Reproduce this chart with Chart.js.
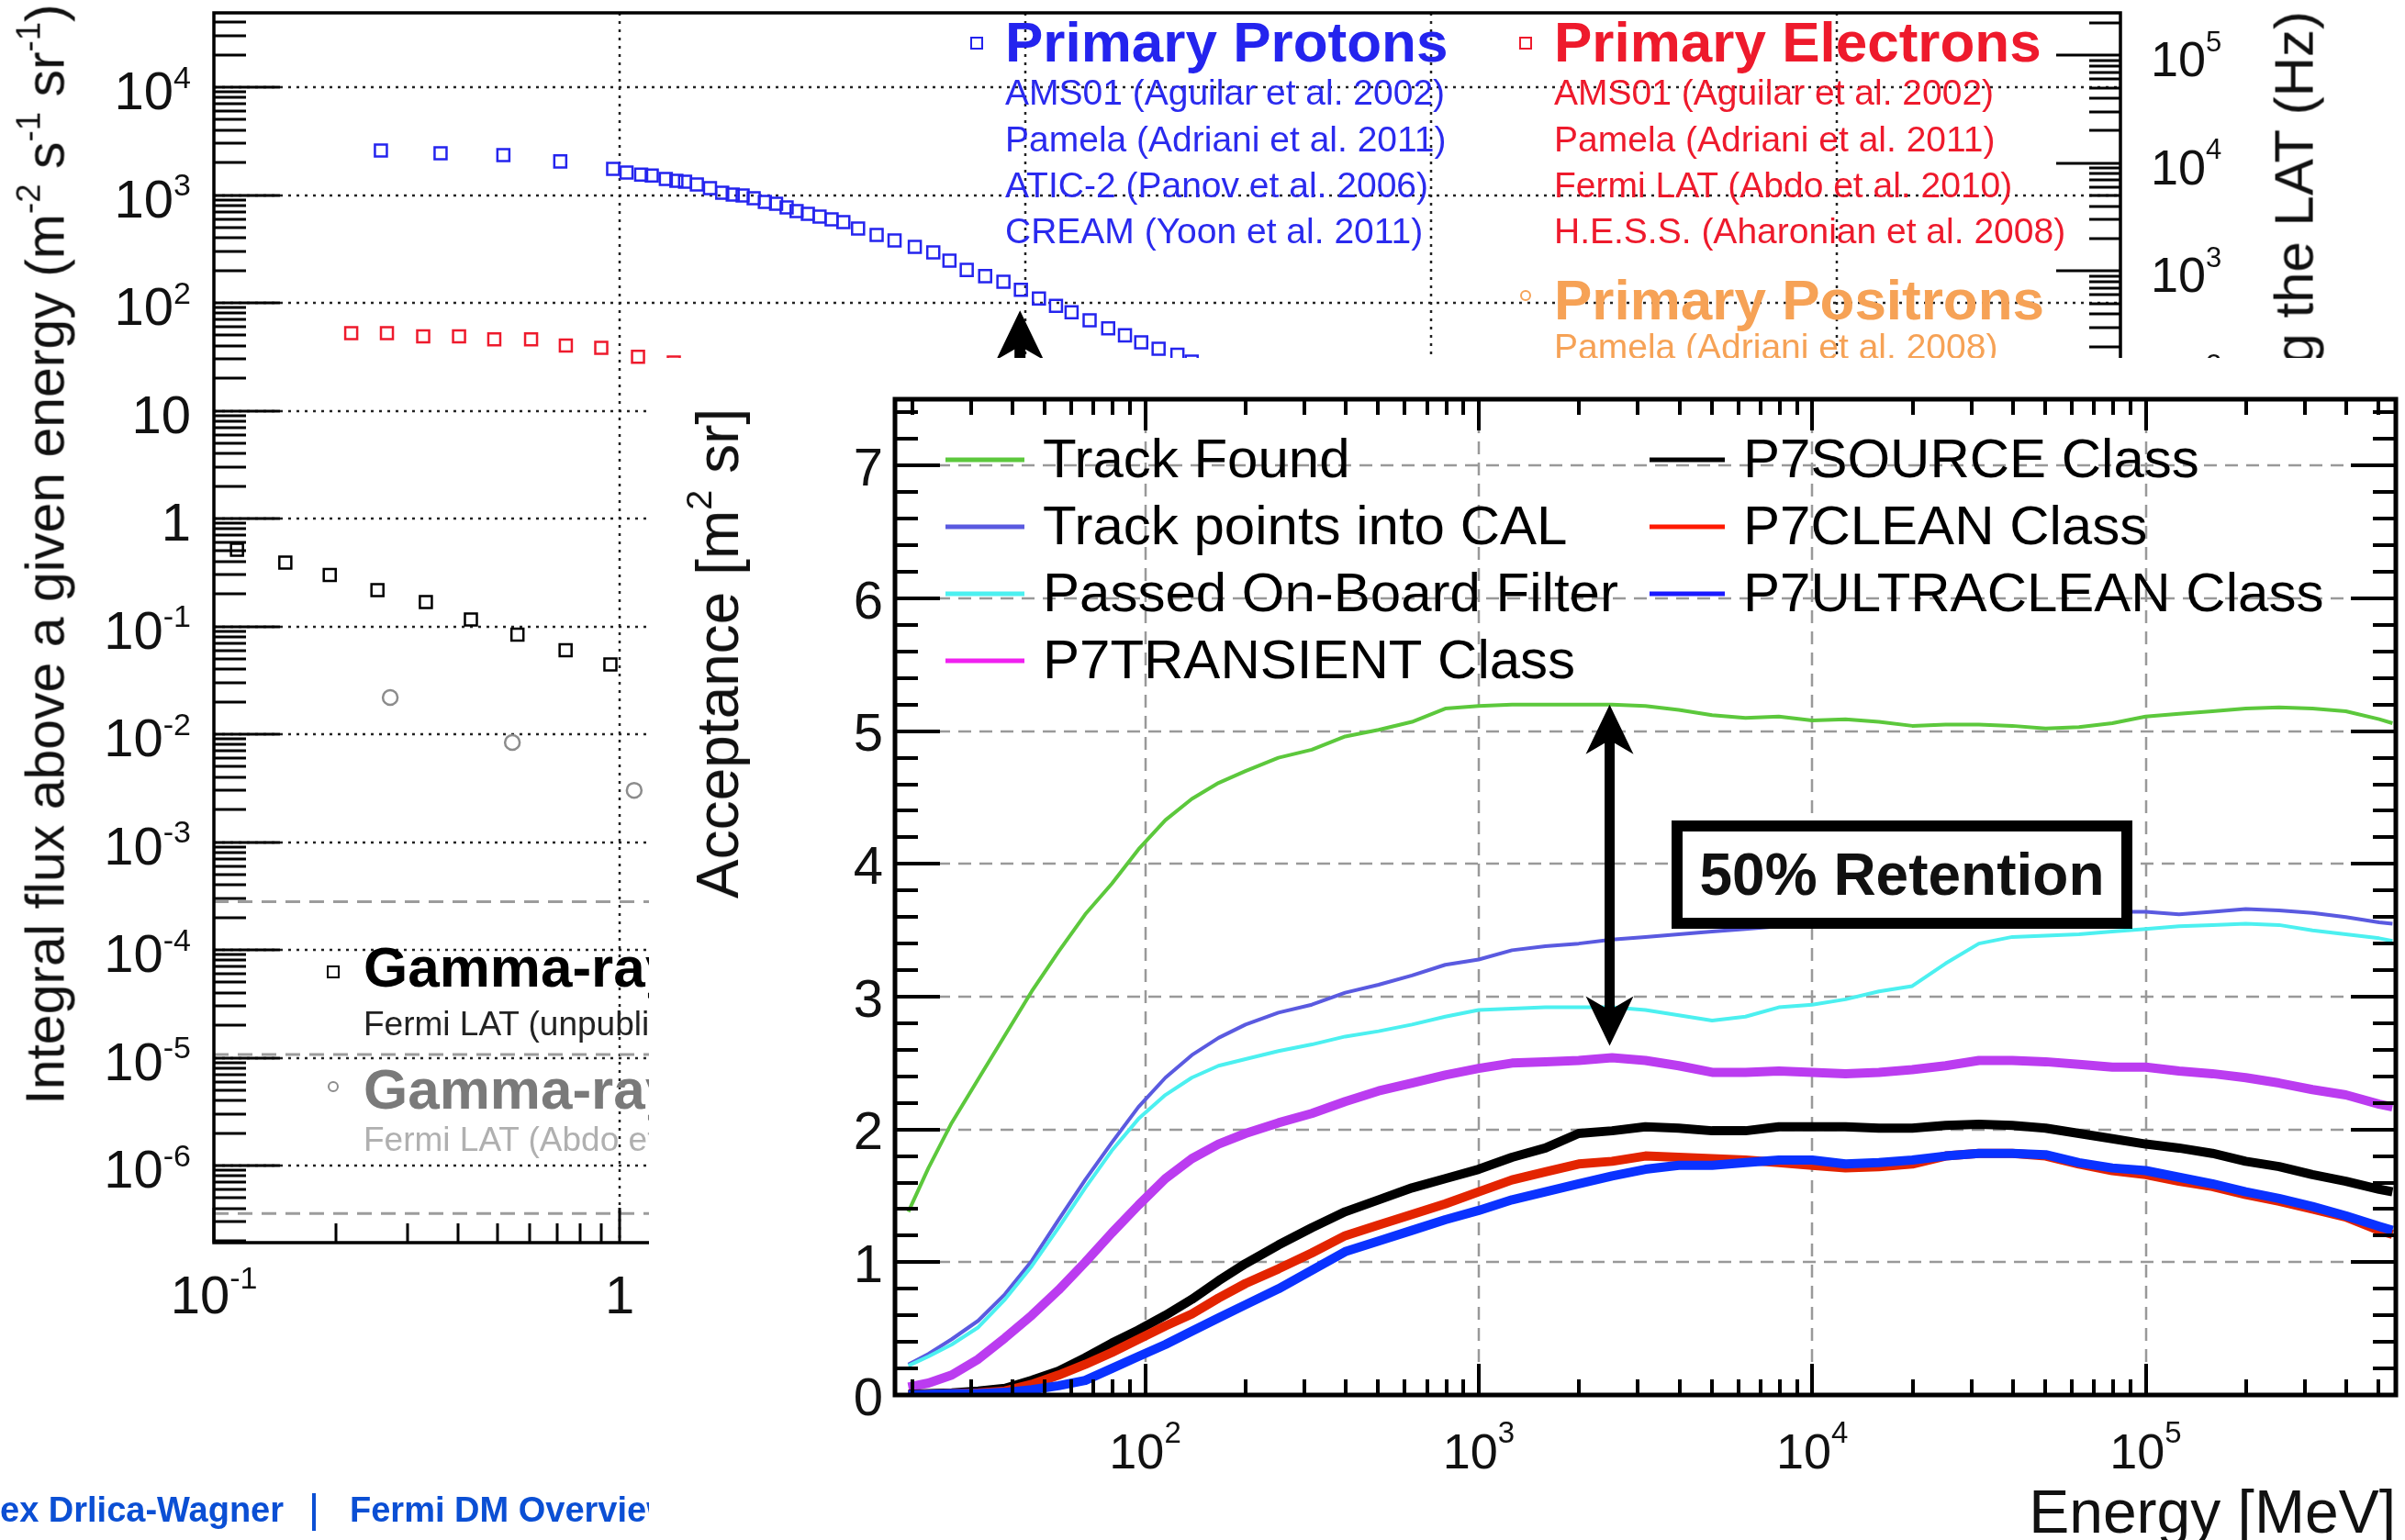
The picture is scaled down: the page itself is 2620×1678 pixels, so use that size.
<!DOCTYPE html>
<html>
<head>
<meta charset="utf-8">
<title>Integral flux and LAT acceptance</title>
<script src="https://cdn.jsdelivr.net/npm/chart.js@4.4.1/dist/chart.umd.min.js"></script>
<style>
  html, body { margin: 0; padding: 0; background: #fff; }
  body { position: relative; width: 2620px; height: 1678px; overflow: hidden;
         font-family: "Liberation Sans", Arial, Helvetica, sans-serif; color: #111; }
  canvas { display: block; }
  #bgChart { position: absolute; left: 0; top: 0; }
  .t { position: absolute; white-space: nowrap; line-height: 1; }
  .b { font-weight: bold; }
  .mk { position: absolute; box-sizing: border-box; }
  sup { font-size: 62%; vertical-align: 0; position: relative; top: -0.72em; }
  #rateTitle { position: absolute; left: 2470px; top: 12px; width: 0; height: 0; }
  #rateTitle span { position: absolute; right: 0; top: 0; white-space: nowrap; line-height: 1; font-size: 60px;
                    transform-origin: 100% 0; transform: rotate(-90deg); }
  #inset { position: absolute; left: 707px; top: 390px; width: 1913px; height: 1288px; background: #fff; }
  #accChart { position: absolute; left: 0; top: 0; }
  #retBox { position: absolute; left: 1114px; top: 504px; width: 502px; height: 118px; box-sizing: border-box;
            border: 12px solid #000; background: #fff; text-align: center; font-weight: bold;
            font-size: 64px; line-height: 94px; white-space: nowrap; }
</style>
</head>
<body>

<canvas id="bgChart" width="2620" height="1678"></canvas>

<!-- axis titles of the flux plot -->
<div class="t" style="left:50px;top:604px;font-size:59px;transform:translate(-50%,-50%) rotate(-90deg)">Integral flux above a given energy (m<sup>-2</sup> s<sup>-1</sup> sr<sup>-1</sup>)</div>
<div id="rateTitle"><span>Rate of particles triggering the LAT (Hz)</span></div>

<!-- legend: protons -->
<div class="mk" style="left:1057px;top:40px;width:14px;height:14px;border:2.5px solid #2424ee"></div>
<div class="t b" style="left:1095px;top:15px;font-size:62px;color:#2424ee">Primary Protons</div>
<div class="t" style="left:1095px;top:81px;font-size:39px;color:#2a2aee">AMS01 (Aguilar et al. 2002)</div>
<div class="t" style="left:1095px;top:132px;font-size:39px;color:#2a2aee">Pamela (Adriani et al. 2011)</div>
<div class="t" style="left:1095px;top:182px;font-size:39px;color:#2a2aee">ATIC-2 (Panov et al. 2006)</div>
<div class="t" style="left:1095px;top:232px;font-size:39px;color:#2a2aee">CREAM (Yoon et al. 2011)</div>

<!-- legend: electrons -->
<div class="mk" style="left:1655px;top:40px;width:14px;height:14px;border:2.5px solid #ee1a2c"></div>
<div class="t b" style="left:1693px;top:15px;font-size:62px;color:#ee1a2c">Primary Electrons</div>
<div class="t" style="left:1693px;top:81px;font-size:39px;color:#ee1a2c">AMS01 (Aguilar et al. 2002)</div>
<div class="t" style="left:1693px;top:132px;font-size:39px;color:#ee1a2c">Pamela (Adriani et al. 2011)</div>
<div class="t" style="left:1693px;top:182px;font-size:39px;color:#ee1a2c">Fermi LAT (Abdo et al. 2010)</div>
<div class="t" style="left:1693px;top:232px;font-size:39px;color:#ee1a2c">H.E.S.S. (Aharonian et al. 2008)</div>

<!-- legend: positrons -->
<div class="mk" style="left:1656px;top:316px;width:12px;height:12px;border:2px solid #f6a256;border-radius:50%"></div>
<div class="t b" style="left:1693px;top:296px;font-size:62px;color:#f6a256">Primary Positrons</div>
<div class="t" style="left:1693px;top:358px;font-size:39px;color:#f6a256">Pamela (Adriani et al. 2008)</div>

<!-- legend: gamma rays -->
<div class="mk" style="left:356px;top:1052px;width:14px;height:14px;border:2.5px solid #000"></div>
<div class="t b" style="left:396px;top:1023px;font-size:62px;color:#000">Gamma-rays</div>
<div class="t" style="left:396px;top:1097px;font-size:37px;color:#222">Fermi LAT (unpublished)</div>
<div class="mk" style="left:357px;top:1178px;width:12px;height:12px;border:2px solid #8c8c8c;border-radius:50%"></div>
<div class="t b" style="left:396px;top:1156px;font-size:62px;color:#7a7a7a">Gamma-rays</div>
<div class="t" style="left:396px;top:1223px;font-size:37px;color:#b0b0b0">Fermi LAT (Abdo et al. 2010)</div>

<!-- footer -->
<div class="t b" style="left:-38px;top:1626px;font-size:38px;color:#0b4fd4">Alex Drlica-Wagner</div>
<div class="mk" style="left:340px;top:1627px;width:4px;height:41px;background:#0b4fd4"></div>
<div class="t b" style="left:381px;top:1626px;font-size:38px;color:#0b4fd4">Fermi DM Overview</div>

<!-- acceptance inset -->
<div id="inset">
  <canvas id="accChart" width="1913" height="1288"></canvas>
  <div class="t" style="left:75px;top:322px;font-size:64px;transform:translate(-50%,-50%) rotate(-90deg)">Acceptance [m<sup>2</sup> sr]</div>
  <div class="t" style="right:10px;top:1224px;font-size:66px">Energy [MeV]</div>
  <div id="retBox">50% Retention</div>
</div>

<script>
// ---------- integral flux plot (background), energies in GeV ----------
const protonE = [0.258, 0.362, 0.517, 0.714, 0.964, 1.04, 1.13, 1.20, 1.30, 1.38, 1.45, 1.55, 1.67, 1.79, 1.90,
  2.01, 2.14, 2.28, 2.43, 2.58, 2.73, 2.91, 3.11, 3.33, 3.56, 3.87, 4.30, 4.76, 5.34, 5.93, 6.50, 7.17, 7.96,
  8.83, 9.75, 10.8, 11.9, 13.0, 14.4, 16.0, 17.6, 19.3, 21.3, 23.7, 25.7];
const protonFlux = [2590, 2440, 2340, 2050, 1750, 1620, 1550, 1520, 1410, 1355, 1330, 1250, 1160, 1050, 1010,
  990, 934, 863, 830, 767, 710, 670, 631, 595, 561, 489, 427, 379, 331, 294, 246, 202, 177,
  157, 132, 110, 94, 82, 69, 58, 50, 43, 37.5, 33, 28.5];
const electronE = [0.218, 0.267, 0.328, 0.402, 0.491, 0.605, 0.737, 0.901, 1.11, 1.36];
const electronFlux = [52.4, 52.4, 48.9, 48.9, 46.0, 46.0, 40.2, 38.3, 31.6, 28.0];
const gammaE = [0.114, 0.150, 0.193, 0.253, 0.333, 0.430, 0.560, 0.736, 0.949];
const gammaFlux = [0.514, 0.390, 0.300, 0.217, 0.168, 0.116, 0.0838, 0.0601, 0.0444];
const gammaAbdoE = [0.272, 0.544, 1.086];
const gammaAbdoFlux = [0.0219, 0.00838, 0.00302];
const legendBoxFlux = [2.8e-4, 1.07e-5, 3.6e-7];

const fluxTicks = [1e-6, 1e-5, 1e-4, 1e-3, 1e-2, 1e-1, 1, 10, 1e2, 1e3, 1e4];
const fluxTickLabels = ['10^-6', '10^-5', '10^-4', '10^-3', '10^-2', '10^-1', '1', '10', '10^2', '10^3', '10^4'];
const rateTicks = [1e-6, 1e-5, 1e-4, 1e-3, 1e-2, 1e-1, 1, 10, 1e2, 1e3, 1e4, 1e5];
const rateTickLabels = ['10^-6', '10^-5', '10^-4', '10^-3', '10^-2', '10^-1', '1', '10', '10^2', '10^3', '10^4', '10^5'];
const gevTicks = [0.1, 1, 10, 100, 1000];
const gevTickLabels = ['10^-1', '1', '10', '10^2', '10^3'];
const protonArrow = { energy: 9.7, flux: 85 };

// ---------- acceptance inset, energies in MeV ----------
const energyMeV = [19.5, 22.4, 26.3, 31.6, 38.0, 45.7, 55.0, 66.1, 79.4, 95.5, 115, 138, 166, 200, 251, 316,
  398, 501, 631, 794, 1000, 1259, 1585, 1995, 2512, 3162, 3981, 5012, 6310, 7943, 10000, 12589, 15849,
  19953, 25119, 31623, 39811, 50119, 63096, 79433, 100000, 125893, 158489, 199526, 251189, 316228,
  398107, 501187, 549541];
const trackFound = [1.38, 1.71, 2.05, 2.38, 2.71, 3.04, 3.34, 3.62, 3.85, 4.11, 4.33, 4.49, 4.61, 4.70, 4.80,
  4.86, 4.96, 5.01, 5.07, 5.17, 5.19, 5.20, 5.20, 5.20, 5.20, 5.19, 5.16, 5.12, 5.10, 5.11, 5.08, 5.09, 5.07,
  5.04, 5.05, 5.05, 5.04, 5.02, 5.03, 5.06, 5.11, 5.13, 5.15, 5.17, 5.18, 5.17, 5.15, 5.09, 5.06];
const trackIntoCal = [0.23, 0.31, 0.42, 0.56, 0.76, 1.01, 1.32, 1.62, 1.90, 2.17, 2.39, 2.56, 2.69, 2.79, 2.88,
  2.94, 3.03, 3.09, 3.16, 3.24, 3.28, 3.35, 3.38, 3.40, 3.43, 3.45, 3.47, 3.49, 3.51, 3.53, 3.55, 3.57, 3.58,
  3.60, 3.61, 3.62, 3.63, 3.63, 3.64, 3.64, 3.64, 3.62, 3.64, 3.66, 3.65, 3.63, 3.60, 3.56, 3.55];
const onboardFilter = [0.22, 0.29, 0.38, 0.51, 0.72, 0.97, 1.26, 1.56, 1.84, 2.08, 2.26, 2.39, 2.48, 2.53, 2.59,
  2.64, 2.70, 2.74, 2.79, 2.85, 2.90, 2.91, 2.92, 2.92, 2.92, 2.90, 2.86, 2.82, 2.85, 2.92, 2.94, 2.98, 3.04,
  3.08, 3.25, 3.40, 3.45, 3.46, 3.47, 3.49, 3.51, 3.53, 3.54, 3.55, 3.54, 3.50, 3.47, 3.44, 3.42];
const transientClass = [0.06, 0.09, 0.15, 0.27, 0.43, 0.60, 0.79, 1.00, 1.22, 1.43, 1.63, 1.78, 1.89, 1.97, 2.05,
  2.12, 2.21, 2.29, 2.35, 2.41, 2.46, 2.50, 2.51, 2.52, 2.54, 2.52, 2.48, 2.43, 2.43, 2.44, 2.43, 2.42, 2.43,
  2.45, 2.48, 2.52, 2.52, 2.51, 2.49, 2.47, 2.47, 2.44, 2.42, 2.39, 2.35, 2.30, 2.26, 2.19, 2.17];
const sourceClass = [0.005, 0.01, 0.015, 0.03, 0.05, 0.11, 0.18, 0.28, 0.39, 0.49, 0.60, 0.72, 0.86, 0.99, 1.13,
  1.26, 1.38, 1.47, 1.56, 1.63, 1.70, 1.79, 1.86, 1.97, 1.99, 2.02, 2.01, 1.99, 1.99, 2.02, 2.02, 2.02, 2.01,
  2.01, 2.03, 2.04, 2.03, 2.01, 1.97, 1.93, 1.89, 1.86, 1.82, 1.76, 1.72, 1.66, 1.61, 1.55, 1.53];
const cleanClass = [0.0, 0.005, 0.01, 0.015, 0.03, 0.08, 0.15, 0.23, 0.32, 0.42, 0.52, 0.61, 0.73, 0.84, 0.95,
  1.07, 1.20, 1.28, 1.36, 1.44, 1.53, 1.62, 1.68, 1.74, 1.76, 1.80, 1.79, 1.78, 1.77, 1.75, 1.73, 1.71, 1.72,
  1.74, 1.80, 1.82, 1.82, 1.80, 1.74, 1.69, 1.66, 1.61, 1.57, 1.51, 1.46, 1.40, 1.34, 1.24, 1.21];
const ultracleanClass = [0.0, 0.005, 0.01, 0.01, 0.02, 0.04, 0.07, 0.11, 0.20, 0.29, 0.38, 0.48, 0.58, 0.68, 0.80,
  0.94, 1.08, 1.16, 1.24, 1.32, 1.39, 1.47, 1.53, 1.59, 1.65, 1.70, 1.73, 1.73, 1.75, 1.77, 1.77, 1.74, 1.75,
  1.77, 1.80, 1.82, 1.82, 1.81, 1.75, 1.71, 1.69, 1.64, 1.59, 1.53, 1.48, 1.42, 1.35, 1.27, 1.24];

const accTicks = [0, 1, 2, 3, 4, 5, 6, 7];
const accTickLabels = ['0', '1', '2', '3', '4', '5', '6', '7'];
const mevTicks = [1e2, 1e3, 1e4, 1e5];
const mevTickLabels = ['10^2', '10^3', '10^4', '10^5'];
const retentionArrow = { energy: 2470, from: 2.63, to: 5.20 };

const FONT = '"Liberation Sans", Arial, Helvetica, sans-serif';

function zip(xs, ys) {
  return xs.map((x, i) => ({ x: x, y: ys[i] }));
}

// positions of major (decade) and minor ticks on a log axis
function logMarks(min, max) {
  const out = [];
  for (let k = Math.floor(Math.log10(min)); k <= Math.ceil(Math.log10(max)); k++) {
    for (let m = 1; m <= 9; m++) {
      const v = m * Math.pow(10, k);
      if (v >= min * 0.999 && v <= max * 1.001) out.push({ v: v, major: m === 1 });
    }
  }
  return out;
}

// "10^3" -> 10 with a raised exponent; yc is the vertical centre of the base digits
function drawPow(ctx, label, x, yc, align, base, exp, rise) {
  const parts = label.split('^');
  ctx.font = base + 'px ' + FONT;
  const wb = ctx.measureText(parts[0]).width;
  let we = 0;
  if (parts[1]) {
    ctx.font = exp + 'px ' + FONT;
    we = ctx.measureText(parts[1]).width;
  }
  const w = wb + we;
  const x0 = align === 'right' ? x - w : (align === 'center' ? x - w / 2 : x);
  ctx.textAlign = 'left';
  ctx.textBaseline = 'alphabetic';
  ctx.font = base + 'px ' + FONT;
  ctx.fillText(parts[0], x0, yc + 0.358 * base);
  if (parts[1]) {
    ctx.font = exp + 'px ' + FONT;
    ctx.fillText(parts[1], x0 + wb, yc - rise + 0.358 * exp);
  }
}

function arrowHead(ctx, x, tipY, dir, half, len) {
  ctx.beginPath();
  ctx.moveTo(x, tipY);
  ctx.lineTo(x - half, tipY + dir * len);
  ctx.lineTo(x, tipY + dir * len * 0.72);
  ctx.lineTo(x + half, tipY + dir * len);
  ctx.closePath();
  ctx.fill();
}

// ---------- plugin: frame, dotted grid, inner ticks for the flux plot ----------
const fluxFrame = {
  id: 'fluxFrame',
  beforeDatasetsDraw(chart) {
    const { ctx, chartArea: a, scales: { x, y } } = chart;
    ctx.save();
    ctx.strokeStyle = '#222';
    ctx.lineWidth = 2.5;
    ctx.setLineDash([3, 6]);
    fluxTicks.forEach(v => {
      const py = Math.round(y.getPixelForValue(v));
      ctx.beginPath(); ctx.moveTo(a.left, py); ctx.lineTo(a.right, py); ctx.stroke();
    });
    gevTicks.slice(1).forEach(v => {
      const px = Math.round(x.getPixelForValue(v));
      ctx.beginPath(); ctx.moveTo(px, a.top); ctx.lineTo(px, a.bottom); ctx.stroke();
    });
    ctx.restore();
  },
  afterDatasetsDraw(chart) {
    const { ctx, chartArea: a, scales: { x, y, y2 } } = chart;
    ctx.save();
    ctx.strokeStyle = '#000';
    ctx.lineWidth = 3;
    // inner ticks
    logMarks(y.min, y.max).forEach(t => {
      const py = Math.round(y.getPixelForValue(t.v));
      ctx.beginPath(); ctx.moveTo(a.left, py); ctx.lineTo(a.left + (t.major ? 72 : 35), py); ctx.stroke();
    });
    logMarks(y2.min, y2.max).forEach(t => {
      const py = Math.round(y2.getPixelForValue(t.v));
      ctx.beginPath(); ctx.moveTo(a.right, py); ctx.lineTo(a.right - (t.major ? 70 : 34), py); ctx.stroke();
    });
    logMarks(x.min, x.max).forEach(t => {
      const px = Math.round(x.getPixelForValue(t.v));
      ctx.beginPath(); ctx.moveTo(px, a.bottom); ctx.lineTo(px, a.bottom - (t.major ? 38 : 21)); ctx.stroke();
    });
    // frame
    ctx.lineWidth = 3.5;
    ctx.strokeRect(a.left, a.top, a.right - a.left, a.bottom - a.top);
    // tick labels
    ctx.fillStyle = '#111';
    fluxTicks.forEach((v, i) => drawPow(ctx, fluxTickLabels[i], 208, y.getPixelForValue(v) + 3.5, 'right', 58, 34, 15));
    rateTicks.forEach((v, i) => {
      if (v >= y2.min && v <= y2.max) drawPow(ctx, rateTickLabels[i], a.right + 33, y2.getPixelForValue(v) + 3.5, 'left', 54, 31, 19);
    });
    gevTicks.forEach((v, i) => drawPow(ctx, gevTickLabels[i], x.getPixelForValue(v), a.bottom + 56, 'center', 58, 34, 18));
    // arrow pointing at the proton curve
    const ax = x.getPixelForValue(protonArrow.energy);
    const tip = y.getPixelForValue(protonArrow.flux);
    ctx.fillStyle = '#000';
    ctx.fillRect(ax - 6, tip + 30, 12, a.bottom - tip - 30);
    arrowHead(ctx, ax, tip, 1, 26, 54);
    ctx.restore();
  }
};

const hollow = 'rgba(255,255,255,0)';
new Chart(document.getElementById('bgChart'), {
  type: 'scatter',
  data: {
    datasets: [
      { label: 'Primary Protons', data: zip(protonE, protonFlux), pointStyle: 'rect', pointRadius: 9.2,
        pointBorderColor: '#2424ee', pointBackgroundColor: hollow, pointBorderWidth: 2.5 },
      { label: 'Primary Electrons', data: zip(electronE, electronFlux), pointStyle: 'rect', pointRadius: 9.2,
        pointBorderColor: '#ee1a2c', pointBackgroundColor: hollow, pointBorderWidth: 2.5 },
      { label: 'Gamma-rays', data: zip(gammaE, gammaFlux), pointStyle: 'rect', pointRadius: 9.2,
        pointBorderColor: '#000', pointBackgroundColor: hollow, pointBorderWidth: 2.5 },
      { label: 'Gamma-rays (Abdo et al.)', data: zip(gammaAbdoE, gammaAbdoFlux), pointStyle: 'circle', pointRadius: 8,
        pointBorderColor: '#8c8c8c', pointBackgroundColor: hollow, pointBorderWidth: 2.5 }
    ].concat(legendBoxFlux.map(v => ({
      label: 'box', data: [{ x: 0.1, y: v }, { x: 5000, y: v }], showLine: true, pointRadius: 0,
      borderColor: '#9c9c9c', borderWidth: 3, borderDash: [16, 10]
    })))
  },
  options: {
    responsive: false,
    animation: false,
    events: [],
    layout: { padding: { left: 233, top: 14, right: 310, bottom: 324 } },
    plugins: { legend: { display: false }, tooltip: { enabled: false } },
    scales: {
      x: { type: 'logarithmic', min: 0.1, max: 5000, display: false },
      y: { type: 'logarithmic', min: 1.93e-7, max: 4.89e4, display: false },
      y2: { type: 'logarithmic', position: 'right', min: 9.8e-7, max: 2.48e5, display: false }
    }
  },
  plugins: [fluxFrame]
});

// ---------- plugin: frame, dashed grid, ticks, legend and arrow for the inset ----------
const accFrame = {
  id: 'accFrame',
  beforeDatasetsDraw(chart) {
    const { ctx, chartArea: a, scales: { x, y } } = chart;
    ctx.save();
    ctx.strokeStyle = '#999';
    ctx.lineWidth = 2.5;
    ctx.setLineDash([14, 9]);
    accTicks.slice(1).forEach(v => {
      const py = Math.round(y.getPixelForValue(v));
      ctx.beginPath(); ctx.moveTo(a.left, py); ctx.lineTo(a.right, py); ctx.stroke();
    });
    mevTicks.forEach(v => {
      const px = Math.round(x.getPixelForValue(v));
      ctx.beginPath(); ctx.moveTo(px, a.top); ctx.lineTo(px, a.bottom); ctx.stroke();
    });
    ctx.restore();
  },
  afterDatasetsDraw(chart) {
    const { ctx, chartArea: a, scales: { x, y } } = chart;
    ctx.save();
    ctx.strokeStyle = '#000';
    ctx.lineWidth = 4;
    for (let i = 0; i <= 37; i++) {
      const v = i * 0.2;
      const py = Math.round(y.getPixelForValue(v));
      const len = (i % 5 === 0) ? 49 : 25;
      ctx.beginPath(); ctx.moveTo(a.left, py); ctx.lineTo(a.left + len, py); ctx.stroke();
      ctx.beginPath(); ctx.moveTo(a.right, py); ctx.lineTo(a.right - len, py); ctx.stroke();
    }
    logMarks(x.min, x.max).forEach(t => {
      const px = Math.round(x.getPixelForValue(t.v));
      const len = t.major ? 34 : 17;
      ctx.beginPath(); ctx.moveTo(px, a.bottom); ctx.lineTo(px, a.bottom - len); ctx.stroke();
      ctx.beginPath(); ctx.moveTo(px, a.top); ctx.lineTo(px, a.top + len); ctx.stroke();
    });
    ctx.lineWidth = 5;
    ctx.strokeRect(a.left, a.top, a.right - a.left, a.bottom - a.top);

    ctx.fillStyle = '#111';
    accTicks.forEach((v, i) => drawPow(ctx, accTickLabels[i], a.left - 13, y.getPixelForValue(v) + 1, 'right', 58, 34, 0));
    mevTicks.forEach((v, i) => drawPow(ctx, mevTickLabels[i], x.getPixelForValue(v), a.bottom + 61, 'center', 54, 33, 21));

    // legend, two columns
    chart.data.datasets.forEach((ds, i) => {
      const col = i < 4 ? 0 : 1;
      const row = i < 4 ? i : i - 4;
      const sx = col === 0 ? 323 : 1090;
      const sw = col === 0 ? 86 : 82;
      const yc = 109 + row * 73;
      ctx.strokeStyle = ds.legendColor;
      ctx.lineWidth = 5;
      ctx.beginPath(); ctx.moveTo(sx, yc + 2); ctx.lineTo(sx + sw, yc + 2); ctx.stroke();
      ctx.fillStyle = '#000';
      ctx.font = '60px ' + FONT;
      ctx.textAlign = 'left';
      ctx.textBaseline = 'alphabetic';
      ctx.fillText(ds.label, sx + sw + 20, yc + 0.358 * 60);
    });

    // double arrow: 50% retention
    const ax = x.getPixelForValue(retentionArrow.energy);
    const top = y.getPixelForValue(retentionArrow.to);
    const bot = y.getPixelForValue(retentionArrow.from);
    ctx.fillStyle = '#000';
    ctx.fillRect(ax - 5.5, top + 30, 11, bot - top - 60);
    arrowHead(ctx, ax, top, 1, 26, 54);
    arrowHead(ctx, ax, bot, -1, 26, 54);
    ctx.restore();
  }
};

const accStyles = [
  { color: '#5cc83c', legend: '#5cc83c', width: 4 },
  { color: '#5a5ae0', legend: '#5a5ae0', width: 4 },
  { color: '#4cf0f0', legend: '#4cf0f0', width: 4 },
  { color: '#bb3cf0', legend: '#f020f0', width: 10 },
  { color: '#000000', legend: '#000000', width: 10 },
  { color: '#e32400', legend: '#ff1a00', width: 10 },
  { color: '#0a32ff', legend: '#1a1aff', width: 10 }
];
const accSeries = [
  ['Track Found', trackFound],
  ['Track points into CAL', trackIntoCal],
  ['Passed On-Board Filter', onboardFilter],
  ['P7TRANSIENT Class', transientClass],
  ['P7SOURCE Class', sourceClass],
  ['P7CLEAN Class', cleanClass],
  ['P7ULTRACLEAN Class', ultracleanClass]
];

new Chart(document.getElementById('accChart'), {
  type: 'scatter',
  data: {
    datasets: accSeries.map((s, i) => ({
      label: s[0],
      data: zip(energyMeV, s[1]),
      showLine: true,
      pointRadius: 0,
      borderColor: accStyles[i].color,
      borderWidth: accStyles[i].width,
      borderJoinStyle: 'round',
      legendColor: accStyles[i].legend,
      order: accSeries.length - i
    }))
  },
  options: {
    responsive: false,
    animation: false,
    events: [],
    layout: { padding: { left: 268, top: 45, right: 10, bottom: 158 } },
    plugins: { legend: { display: false }, tooltip: { enabled: false } },
    scales: {
      x: { type: 'logarithmic', min: 17.78, max: 562341, display: false },
      y: { type: 'linear', min: 0, max: 7.5, display: false }
    }
  },
  plugins: [accFrame]
});
</script>
</body>
</html>
